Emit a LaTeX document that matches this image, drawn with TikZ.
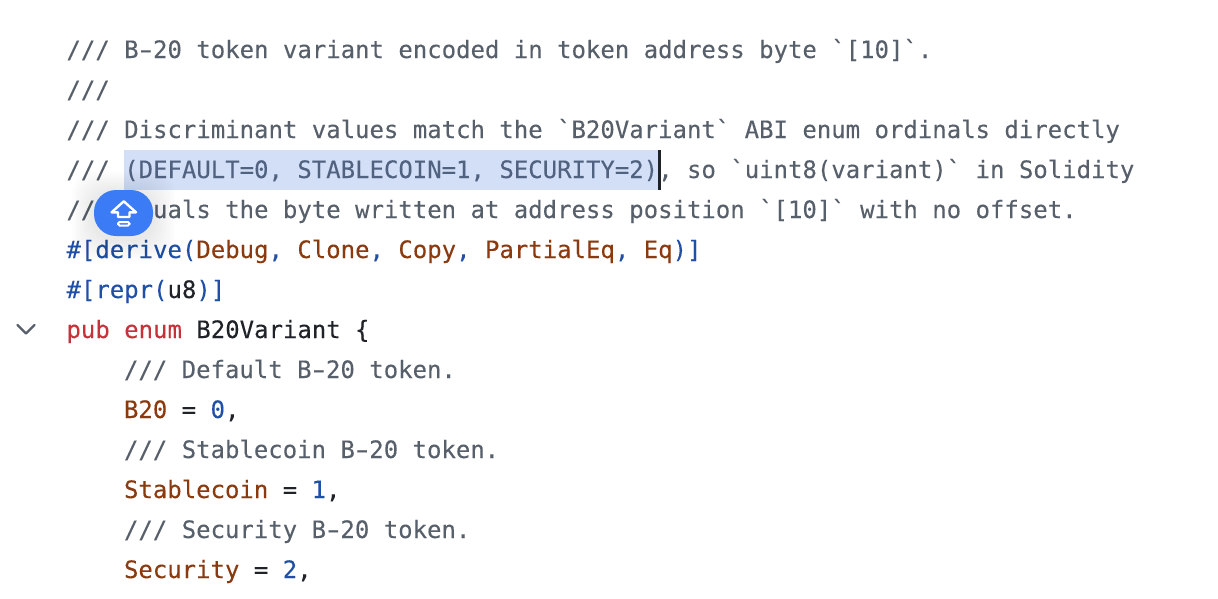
\documentclass[tikz,border=0pt]{standalone}
\usepackage{fontspec}
\newfontfamily\codefont[FakeBold=0.12]{DejaVu Sans Mono}
\definecolor{cmt}{HTML}{57606A}
\definecolor{cmtsel}{HTML}{50627F}
\definecolor{kw}{HTML}{C4323A}
\definecolor{blu}{HTML}{1F4FA6}
\definecolor{brn}{HTML}{8A3A0E}
\definecolor{ink}{HTML}{1F2328}
\definecolor{sel}{HTML}{D3DFF6}
\definecolor{btn}{HTML}{3B7BF6}
\definecolor{chev}{HTML}{57606A}
\tikzset{
  x=1pt,y=-1pt,
  codeline/.style={anchor=base west,inner sep=0pt,outer sep=0pt,font=\codefont\fontsize{23.97}{28}\selectfont,text=cmt},
  iconline/.style={draw=white,line width=2.4pt,line join=round,line cap=round},
  chevline/.style={draw=chev,line width=2.4pt,line cap=round,line join=round},
}
\newcommand{\Cb}[1]{\textcolor{blu}{#1}}
\newcommand{\Cr}[1]{\textcolor{brn}{#1}}
\newcommand{\Ck}[1]{\textcolor{kw}{#1}}
\newcommand{\Ci}[1]{\textcolor{ink}{#1}}
\newcommand{\Hy}{\makebox[0.602em][c]{\scalebox{1.55}[1]{-}}}
\begin{document}
\begin{tikzpicture}
\useasboundingbox (0,0) rectangle (1218,598);
\fill[white] (0,0) rectangle (1218,598);
% selection and caret
\fill[sel] (124,150) rectangle (659,190);
\fill[ink] (658,150) rectangle (661,190);
% code
\node[codeline] (l1) at (66.5,58) {/// B\Hy 20 token variant encoded in token address byte `[10]`.};
\node[codeline] (l2) at (66.5,98) {///};
\node[codeline] (l3) at (66.5,138) {/// Discriminant values match the `B20Variant` ABI enum ordinals directly};
\node[codeline] (l4) at (66.5,178) {/// \textcolor{cmtsel}{(DEFAULT=0, STABLECOIN=1, SECURITY=2)}, so `uint8(variant)` in Solidity};
\node[codeline] (l5) at (66.5,218) {/// equals the byte written at address position `[10]` with no offset.};
\node[codeline] (l6) at (66.5,258) {\Cb{\#[derive(}\Cr{Debug}\Cb{,} \Cr{Clone}\Cb{,} \Cr{Copy}\Cb{,} \Cr{PartialEq}\Cb{,} \Cr{Eq}\Cb{)]}};
\node[codeline] (l7) at (66.5,298) {\Cb{\#[repr(}\Ci{u8}\Cb{)]}};
\node[codeline] (l8) at (66.5,338) {\Ck{pub enum} \Ci{B20Variant \{}};
\node[codeline] (l9) at (124,378) {/// Default B\Hy 20 token.};
\node[codeline] (l10) at (124,418) {\Cr{B20} \Ci{=} \Cb{0}\Ci{,}};
\node[codeline] (l11) at (124,458) {/// Stablecoin B\Hy 20 token.};
\node[codeline] (l12) at (124,498) {\Cr{Stablecoin} \Ci{=} \Cb{1}\Ci{,}};
\node[codeline] (l13) at (124,538) {/// Security B\Hy 20 token.};
\node[codeline] (l14) at (124,578) {\Cr{Security} \Ci{=} \Cb{2}\Ci{,}};
% fold chevron
\draw[chevline] (17.5,325) -- (26,333.5) -- (34.5,325);
% button shadow
\foreach \g in {22,20,...,2}{
  \fill[black,opacity=0.008,rounded corners=22pt] (94-\g,190-\g+3) rectangle (153+\g,236+\g+3);
}
% button
\fill[btn,rounded corners=22pt] (94,190) rectangle (153,236);
% icon
\draw[iconline] (123.8,201.3) -- (136,212.3) -- (129.5,212.3) -- (129.5,217) -- (118,217) -- (118,212.3) -- (111.6,212.3) -- cycle;
\draw[white,line width=2pt,rounded corners=1.5pt] (118,222) rectangle (129.5,225.5);
\end{tikzpicture}
\end{document}
